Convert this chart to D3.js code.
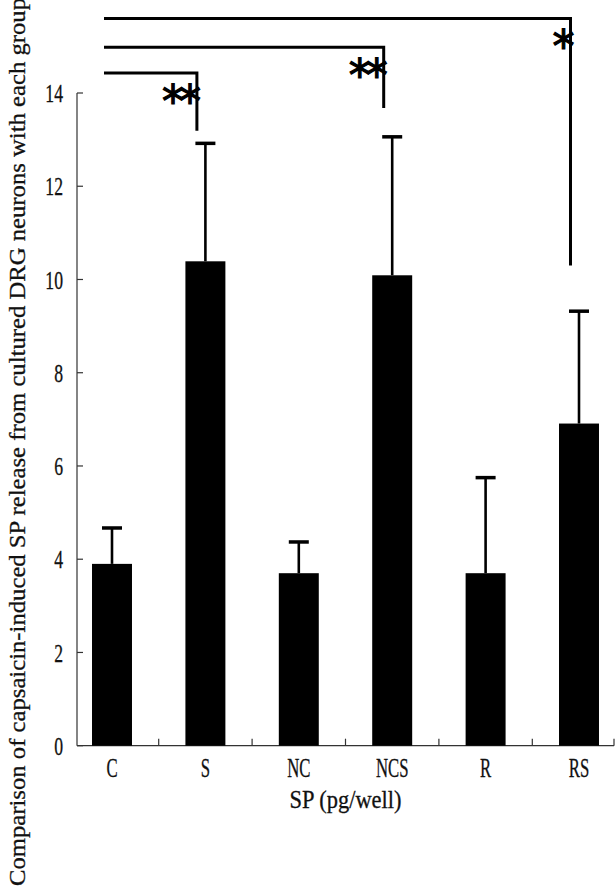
<!DOCTYPE html>
<html><head><meta charset="utf-8">
<script src="https://cdn.jsdelivr.net/npm/d3@7"></script>
<style>body{margin:0;background:#fff}</style></head>
<body>
<svg id="chart" width="615" height="888"></svg>
<script>
// ---- data ----
const categories = ["C", "S", "NC", "NCS", "R", "RS"];
const means = [3.90, 10.39, 3.70, 10.09, 3.70, 6.91];
const upperErrors = [0.77, 2.53, 0.67, 2.97, 2.05, 2.41];
const yTicks = [0, 2, 4, 6, 8, 10, 12, 14];
const sigTargets = ["S", "NCS", "RS"];
const sigLabels = ["**", "**", "*"];
const sigLevels = [14.43, 14.98, 15.6];   // height of bracket line (data units)
const sigDropTo = [13.19, 13.68, 10.3];   // lower end of vertical drop (data units)
const yTitle = "Comparison of capsaicin-induced SP release from cultured DRG neurons with each group";
const xTitle = "SP (pg/well)";

// ---- layout ----
const svg = d3.select("#chart");
const FONT = "'Liberation Serif', 'DejaVu Serif', serif";
const x = d3.scaleBand().domain(categories).range([65.3, 625.7]).paddingInner(0.572).paddingOuter(0.286);
const y = d3.scaleLinear().domain([0, 14]).range([745.7, 93]);
const axisLeft = 77, axisRight = 614;
const ink = "#111";

// y axis line + inward ticks
svg.append("line").attr("x1", axisLeft).attr("x2", axisLeft).attr("y1", y(14)).attr("y2", y(0))
  .attr("stroke", "#333").attr("stroke-width", 1.2);
svg.selectAll(".ytick").data(yTicks).join("line")
  .attr("x1", axisLeft).attr("x2", axisLeft + 6).attr("y1", d => y(d)).attr("y2", d => y(d))
  .attr("stroke", "#333").attr("stroke-width", 1.2);
svg.selectAll(".ylab").data(yTicks).join("text")
  .attr("transform", d => `translate(63,${y(d)}) scale(0.68,1)`)
  .attr("text-anchor", "end").attr("dy", "0.35em")
  .attr("font-family", FONT).attr("font-size", 26).attr("fill", ink)
  .attr("stroke", ink).attr("stroke-width", 0.3)
  .text(d => d);

// x axis line + boundary ticks
svg.append("line").attr("x1", axisLeft).attr("x2", axisRight).attr("y1", y(0)).attr("y2", y(0))
  .attr("stroke", "#333").attr("stroke-width", 1.2);
const boundaries = categories.slice(1).map(c => x(c) - (x.step() - x.bandwidth()) / 2);
boundaries.push(axisRight);
svg.selectAll(".xtick").data(boundaries).join("line")
  .attr("x1", d => d).attr("x2", d => d).attr("y1", y(0)).attr("y2", y(0) - 7)
  .attr("stroke", "#333").attr("stroke-width", 1.2);
svg.selectAll(".xlab").data(categories).join("text")
  .attr("transform", d => `translate(${x(d) + x.bandwidth() / 2},777) scale(0.62,1)`)
  .attr("text-anchor", "middle")
  .attr("font-family", FONT).attr("font-size", 27).attr("fill", ink)
  .attr("stroke", ink).attr("stroke-width", 0.3)
  .text(d => d);

// bars
svg.selectAll(".bar").data(categories).join("rect")
  .attr("x", d => x(d)).attr("width", x.bandwidth())
  .attr("y", (d, i) => y(means[i])).attr("height", (d, i) => y(0) - y(means[i]))
  .attr("fill", "#000");

// error bars (upper only)
const cx = d => x(d) + x.bandwidth() / 2;
svg.selectAll(".err").data(categories).join("line")
  .attr("x1", cx).attr("x2", cx)
  .attr("y1", (d, i) => y(means[i])).attr("y2", (d, i) => y(means[i] + upperErrors[i]))
  .attr("stroke", "#000").attr("stroke-width", 2.6);
svg.selectAll(".cap").data(categories).join("line")
  .attr("x1", d => cx(d) - 10).attr("x2", d => cx(d) + 10)
  .attr("y1", (d, i) => y(means[i] + upperErrors[i])).attr("y2", (d, i) => y(means[i] + upperErrors[i]))
  .attr("stroke", "#000").attr("stroke-width", 3.5);

// significance brackets
const bracketStart = 104;
const dropX = c => cx(c) - 8.5;
sigTargets.forEach((c, i) => {
  svg.append("path")
    .attr("d", `M${bracketStart},${y(sigLevels[i])}H${dropX(c)}V${y(sigDropTo[i])}`)
    .attr("fill", "none").attr("stroke", "#000").attr("stroke-width", 3);
  svg.append("text")
    .attr("x", dropX(c) - 1).attr("y", y(sigLevels[i]) + 44)
    .attr("text-anchor", "end")
    .attr("font-family", "'DejaVu Sans', sans-serif").attr("font-size", 44).attr("fill", "#000")
    .attr("stroke", "#000").attr("stroke-width", 1.2)
    .attr("letter-spacing", -5)
    .text(sigLabels[i]);
});

// axis titles
svg.append("text")
  .attr("transform", `translate(${(axisLeft + axisRight) / 2},808)`)
  .attr("text-anchor", "middle")
  .attr("font-family", FONT).attr("font-size", 25).attr("fill", ink)
  .attr("stroke", ink).attr("stroke-width", 0.3)
  .attr("textLength", 112).attr("lengthAdjust", "spacingAndGlyphs")
  .text(xTitle);
svg.append("text")
  .attr("transform", "translate(25,886) rotate(-90)")
  .attr("text-anchor", "start")
  .attr("font-family", FONT).attr("font-size", 24).attr("fill", ink)
  .attr("stroke", ink).attr("stroke-width", 0.3)
  .attr("textLength", 888).attr("lengthAdjust", "spacingAndGlyphs")
  .text(yTitle);
</script>
</body></html>
